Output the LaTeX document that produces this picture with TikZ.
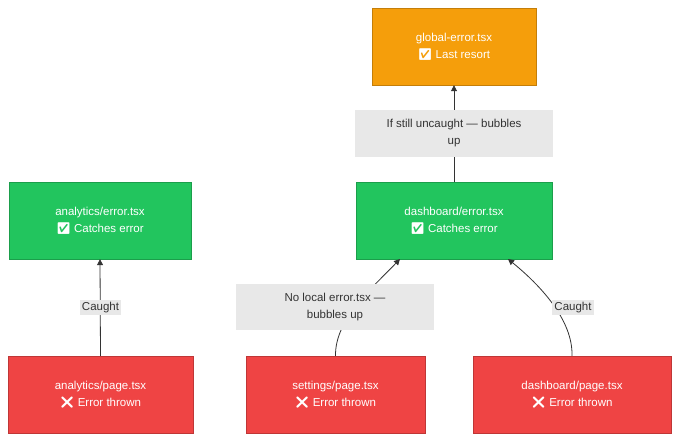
\documentclass[tikz,border=0pt]{standalone}
\usepackage{fontspec}
\setmainfont{Liberation Sans}
\newfontfamily\emo{Noto Emoji}
\usetikzlibrary{arrows.meta}
\definecolor{org}{HTML}{F59E0B}
\definecolor{grn}{HTML}{22C55E}
\definecolor{rd}{HTML}{EF4444}
\definecolor{lbl}{HTML}{E8E8E8}
\definecolor{ln}{HTML}{333333}
\begin{document}
\begin{tikzpicture}[x=1pt,y=-1pt,
  box/.style={draw=#1!80!black,fill=#1,text=white,minimum height=77pt,align=center,font=\fontsize{11.5}{17}\selectfont,inner sep=0pt},
  elab/.style={fill=lbl,text=ln,align=center,font=\fontsize{11.5}{17}\selectfont,inner sep=2pt},
  conn/.style={draw=ln,line width=0.8pt,-{Triangle[length=6pt,width=6pt]}}]
\useasboundingbox (0,0) rectangle (688,446);
\node[box=org,minimum width=164pt] (ge) at (454,46.5) {global-error.tsx\\{\emo ✅} Last resort};
\node[box=grn,minimum width=196pt] (de) at (454,220.5) {dashboard/error.tsx\\{\emo ✅} Catches error};
\node[box=grn,minimum width=182pt] (ae) at (100,220.5) {analytics/error.tsx\\{\emo ✅} Catches error};
\node[box=rd,minimum width=185pt] (ap) at (100.5,394.5) {analytics/page.tsx\\{\emo ❌} Error thrown};
\node[box=rd,minimum width=179pt] (sp) at (335.5,394.5) {settings/page.tsx\\{\emo ❌} Error thrown};
\node[box=rd,minimum width=198pt] (dp) at (572,394.5) {dashboard/page.tsx\\{\emo ❌} Error thrown};
\draw[conn] (de.north) -- (ge.south);
\draw[conn] (ap.north) -- (ae.south);
\draw[conn] (sp.north) .. controls (335,320) and (370,290) .. (400,259);
\draw[conn] (dp.north) .. controls (573,320) and (540,285) .. (508,259);
\node[elab,minimum width=198pt,minimum height=47pt] (l1) at (454,133.5) {If still uncaught — bubbles\\up};
\node[elab] (l2) at (100.5,307.5) {Caught};
\node[elab,minimum width=198pt,minimum height=46pt] (l3) at (335,307) {No local error.tsx —\\bubbles up};
\node[elab] (l4) at (573,307.5) {Caught};
\end{tikzpicture}
\end{document}
